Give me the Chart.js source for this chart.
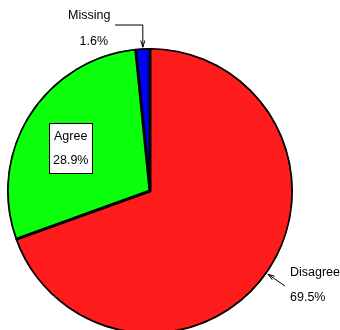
<!DOCTYPE html>
<html>
<head>
<meta charset="utf-8">
<script src="https://cdn.jsdelivr.net/npm/chart.js@4/dist/chart.umd.min.js"></script>
<style>
  html, body { margin: 0; padding: 0; background: #fff; overflow: hidden; }
  #wrap { width: 340px; height: 330px; overflow: hidden; }
</style>
</head>
<body>
<div id="wrap"><canvas id="myChart" width="340" height="340"></canvas></div>
<script>
const categories = ['Disagree', 'Agree', 'Missing'];
const shares = [69.5, 28.9, 1.6];
const sliceColors = ['#ff1c1c', '#0cff0c', '#0000ff'];

const ctx = document.getElementById('myChart');

function arrow(c, x1, y1, x2, y2) {
    // line from (x1,y1) ending with a small head at (x2,y2)
    const a = Math.atan2(y2 - y1, x2 - x1);
    c.beginPath();
    c.moveTo(x1, y1);
    c.lineTo(x2, y2);
    c.stroke();
    c.beginPath();
    c.moveTo(x2, y2);
    c.lineTo(x2 - 7 * Math.cos(a - 0.3), y2 - 7 * Math.sin(a - 0.3));
    c.moveTo(x2, y2);
    c.lineTo(x2 - 7 * Math.cos(a + 0.3), y2 - 7 * Math.sin(a + 0.3));
    c.stroke();
}

// edge point in the middle of a slice
function edgePoint(arc) {
    const mid = (arc.startAngle + arc.endAngle) / 2;
    return { x: arc.x + Math.cos(mid) * arc.outerRadius, y: arc.y + Math.sin(mid) * arc.outerRadius };
}

const sliceLabels = {
    id: 'sliceLabels',
    afterDraw(chart) {
        const c = chart.ctx;
        const arcs = chart.getDatasetMeta(0).data;
        c.save();
        c.font = '12.5px "Liberation Sans", Arial, sans-serif';
        c.fillStyle = '#000';
        c.strokeStyle = '#000';
        c.lineWidth = 1;
        c.textBaseline = 'middle';

        // Missing
        const m = edgePoint(arcs[2]);
        c.textAlign = 'left';
        c.fillText(categories[2], 68, 16);
        c.textAlign = 'right';
        c.fillText(shares[2].toFixed(1) + '%', 108, 42);
        c.beginPath();
        c.moveTo(115, 25);
        c.lineTo(m.x, 25);
        c.stroke();
        arrow(c, m.x, 25, m.x, m.y - 1);

        // Agree, boxed
        c.fillStyle = '#fff';
        c.fillRect(49.5, 123.5, 43, 50);
        c.strokeRect(49.5, 123.5, 43, 50);
        c.fillStyle = '#000';
        c.textAlign = 'left';
        c.fillText(categories[1], 54, 137);
        c.fillText(shares[1].toFixed(1) + '%', 53, 161);

        // Disagree
        const d = edgePoint(arcs[0]);
        c.fillText(categories[0], 290, 273);
        c.fillText(shares[0].toFixed(1) + '%', 290, 298);
        arrow(c, 285, 286, d.x + 1, d.y + 1);
        c.restore();
    }
};

new Chart(ctx, {
    type: 'pie',
    data: {
        labels: categories,
        datasets: [{
            data: shares,
            backgroundColor: sliceColors,
            borderColor: '#000',
            borderWidth: 1.5,
            borderAlign: 'inner'
        }]
    },
    options: {
        responsive: false,
        animation: false,
        devicePixelRatio: 1,
        radius: 143,
        layout: { padding: { left: 0, right: 40, top: 42, bottom: 0 } },
        plugins: {
            legend: { display: false },
            tooltip: { enabled: false }
        }
    },
    plugins: [sliceLabels]
});
</script>
</body>
</html>
